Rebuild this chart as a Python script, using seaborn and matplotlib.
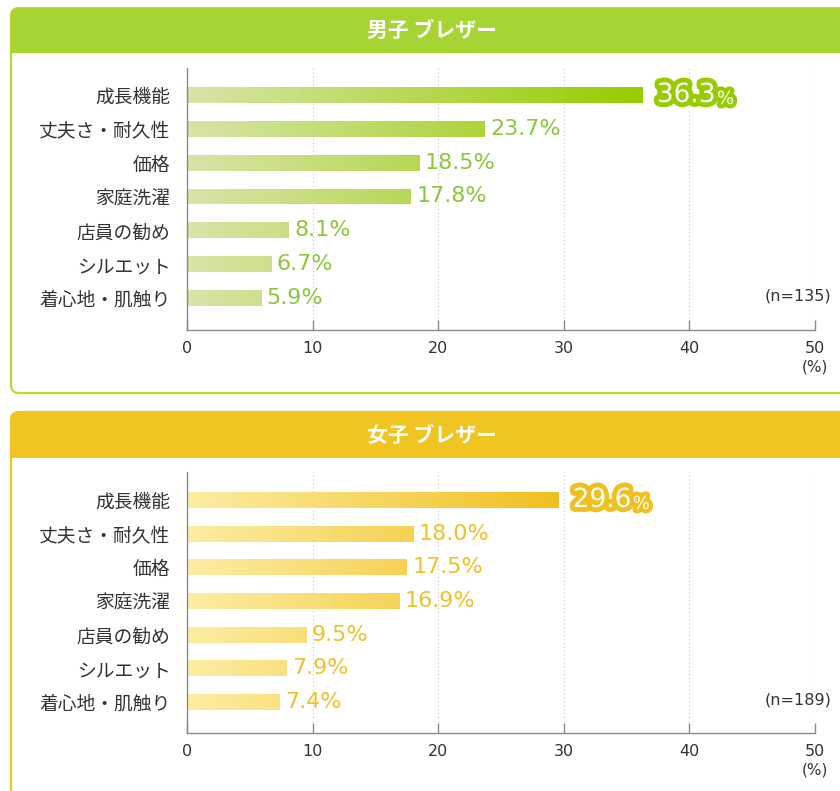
import matplotlib
matplotlib.use("Agg")
import matplotlib.pyplot as plt
import matplotlib.patheffects as pe
from matplotlib.patches import FancyBboxPatch, Rectangle
from matplotlib.colors import LinearSegmentedColormap
import numpy as np
import pandas as pd
import seaborn as sns

# ---------------- data ----------------
categories = ["成長機能", "丈夫さ・耐久性", "価格", "家庭洗濯", "店員の勧め", "シルエット", "着心地・肌触り"]
boys_values = [36.3, 23.7, 18.5, 17.8, 8.1, 6.7, 5.9]
girls_values = [29.6, 18.0, 17.5, 16.9, 9.5, 7.9, 7.4]
panel_titles = ["男子 ブレザー", "女子 ブレザー"]
sample_sizes = ["(n=135)", "(n=189)"]
x_ticks = [0, 10, 20, 30, 40, 50]
unit_label = "(%)"

sns.set_theme(style="white")
plt.rcParams["font.family"] = ["Noto Sans CJK JP", "DejaVu Sans"]

W, H = 840, 791
fig = plt.figure(figsize=(W / 100, H / 100), dpi=100)

# background canvas in pixel units
bg = fig.add_axes([0, 0, 1, 1])
bg.set_xlim(0, W)
bg.set_ylim(H, 0)
bg.axis("off")
bg.set_zorder(0)


def frac(x0, y0, x1, y1):
    return [x0 / W, 1 - y1 / H, (x1 - x0) / W, (y1 - y0) / H]


panels = [
    dict(values=boys_values, title=panel_titles[0], n=sample_sizes[0],
         head="#a6d433", border="#bcd92e", text="#8cc63e",
         light="#d8e4a8", dark="#96cc00",
         box_top=8, head_h=45, box_bottom=393,
         ax_top=68, first=95, pitch=33.83, axis_y=330),
    dict(values=girls_values, title=panel_titles[1], n=sample_sizes[1],
         head="#f0c421", border="#f0c421", text="#f0c02a",
         light="#fdeca3", dark="#f0c020",
         box_top=412, head_h=46, box_bottom=900,
         ax_top=472, first=500, pitch=33.67, axis_y=733),
]

X0, X1 = 187, 815

for p in panels:
    # panel frame
    bg.add_patch(FancyBboxPatch((11, p["box_top"]), 900, p["box_bottom"] - p["box_top"],
                                boxstyle="round,pad=0,rounding_size=8",
                                fc="white", ec=p["border"], lw=1.6))
    bg.add_patch(FancyBboxPatch((11, p["box_top"]), 900, p["head_h"],
                                boxstyle="round,pad=0,rounding_size=8",
                                fc=p["head"], ec="none"))
    bg.add_patch(Rectangle((11, p["box_top"] + 20), 900, p["head_h"] - 20,
                           fc=p["head"], ec="none"))
    bg.text(432, p["box_top"] + p["head_h"] / 2, p["title"], color="white",
            fontsize=15, fontweight="bold", ha="center", va="center")

    ax = fig.add_axes(frac(X0, p["ax_top"], X1, p["axis_y"]))
    ax.set_zorder(2)
    ax.patch.set_alpha(0)
    df = pd.DataFrame({"category": categories, "value": p["values"]})
    sns.barplot(data=df, x="value", y="category", ax=ax, orient="h",
                color=p["dark"], width=0.47, saturation=1)

    ytop = (p["ax_top"] - p["first"]) / p["pitch"]
    ybot = (p["axis_y"] - p["first"]) / p["pitch"]

    cmap = LinearSegmentedColormap.from_list("g", [p["light"], p["dark"]])
    gmax = max(p["values"])
    grad = np.linspace(0, 1, 256).reshape(1, -1)
    for patch in ax.patches:
        y0 = patch.get_y()
        h = patch.get_height()
        im = ax.imshow(grad, cmap=cmap, extent=(0, gmax, y0 + h, y0),
                       aspect="auto", zorder=patch.get_zorder() + 0.1,
                       interpolation="bilinear")
        im.set_clip_path(patch)
        patch.set_alpha(0)

    ax.set_xlim(0, 50)
    ax.set_ylim(ybot, ytop)

    # grid
    for t in x_ticks[1:]:
        ax.axvline(t, color="#c8c8c8", lw=0.8, ls=(0, (1, 2.5)), zorder=0)

    # value labels
    for i, v in enumerate(p["values"]):
        if i == 0:
            t = ax.annotate(f"{v:.1f}", xy=(v, i), xytext=(10, 0),
                            textcoords="offset points", ha="left", va="center",
                            fontsize=19, color="white", family="DejaVu Sans",
                            path_effects=[pe.withStroke(linewidth=7, foreground=p["dark"])],
                            zorder=5)
            ax.annotate("%", xy=(1, 0), xycoords=t, xytext=(1, 0),
                        textcoords="offset points", ha="left", va="bottom",
                        fontsize=13, color="white", family="DejaVu Sans",
                        path_effects=[pe.withStroke(linewidth=6, foreground=p["dark"])],
                        zorder=5)
        else:
            ax.annotate(f"{v:.1f}%", xy=(v, i), xytext=(4, 0),
                        textcoords="offset points", ha="left", va="center",
                        fontsize=16, color=p["text"], family="DejaVu Sans", zorder=5)

    # axes styling
    sns.despine(ax=ax, top=True, right=True)
    for s in ("left", "bottom"):
        ax.spines[s].set_color("#8a8a8a")
        ax.spines[s].set_linewidth(1.0)
    ax.set_xticks(x_ticks)
    ax.set_xticklabels([str(t) for t in x_ticks], family="DejaVu Sans")
    ax.tick_params(axis="x", direction="in", length=7, width=1, color="#8a8a8a",
                   labelsize=11.5, labelcolor="#333333", pad=8, bottom=True)
    ax.tick_params(axis="y", length=0, pad=12, labelsize=13.5, labelcolor="#333333")
    ax.set_xlabel("")
    ax.set_ylabel("")

    bg.text(X1, p["axis_y"] + 37, unit_label, fontsize=11, color="#333333",
            ha="center", va="center", family="DejaVu Sans")
    bg.text(831, p["first"] + 6 * p["pitch"] - 2, p["n"], fontsize=11.5, color="#333333",
            ha="right", va="center", family="DejaVu Sans")

fig.savefig("out.png", dpi=100)
